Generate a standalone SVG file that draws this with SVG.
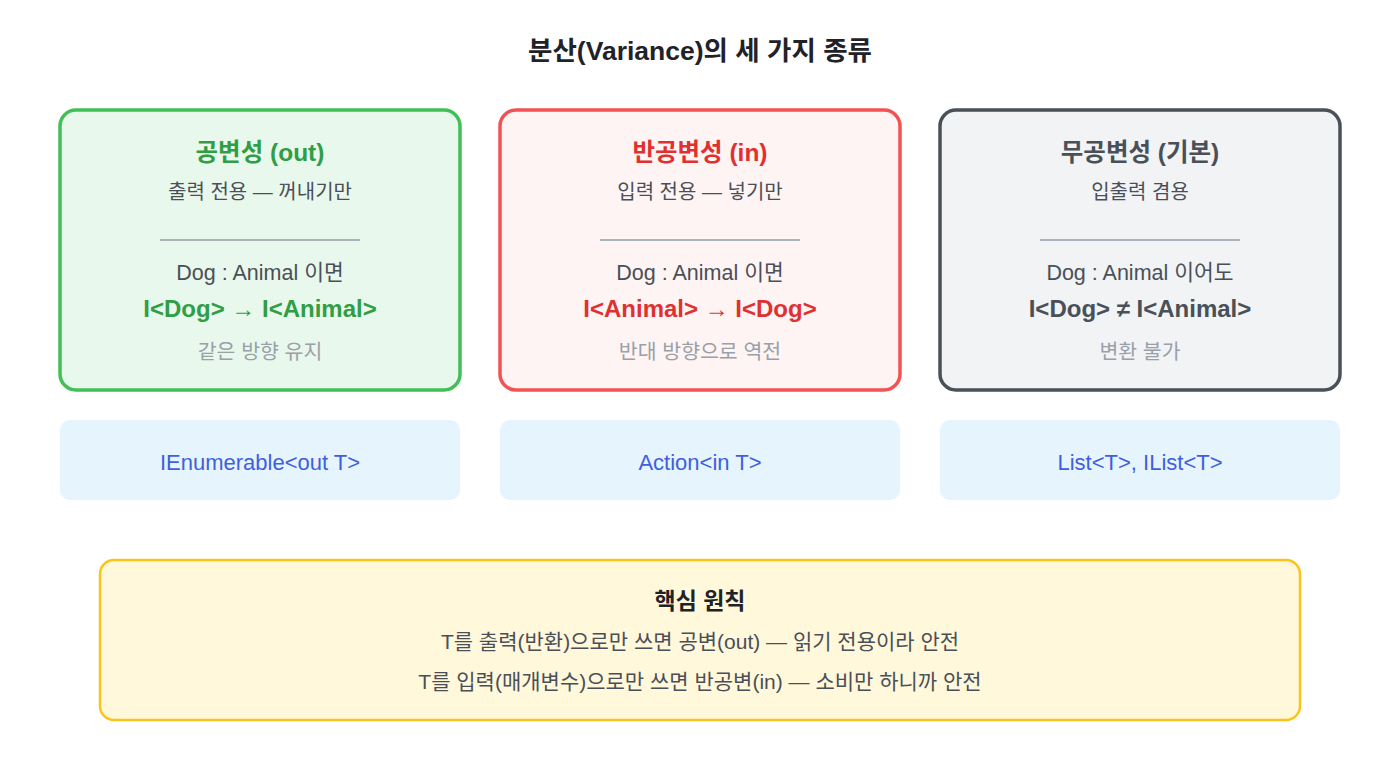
<svg xmlns="http://www.w3.org/2000/svg" width="1400" height="760" viewBox="0 0 1400 760">
<style>
text{font-family:"Liberation Sans","Noto Sans CJK KR",sans-serif;text-anchor:middle}
.title{font-size:26.5px;font-weight:bold;fill:#1f2328}
.h{font-size:24.5px;font-weight:bold}
.sub{font-size:20px;fill:#4a4f57}
.dog{font-size:21.5px;fill:#4a4f57}
.rel{font-size:24px;font-weight:bold}
.note{font-size:20.5px;fill:#9aa0a8}
.api{font-size:22px;fill:#3f5fe0}
.div{stroke:#adb3ba;stroke-width:2}
.card{stroke-width:3.5}
.apibox{fill:#e6f4fd}
.k{font-size:23px;font-weight:bold;fill:#1f2328}
.kl{font-size:21px;fill:#4a4f57}
</style>
<rect width="1400" height="760" fill="#ffffff"/>
<text class="title" x="700" y="59.5">분산(Variance)의 세 가지 종류</text>
<g id="connectors"></g>
<g id="covariance">
<rect class="card" x="60" y="110" width="400" height="280" rx="16" fill="#e9f8ec" stroke="#40c057"/>
<text class="h" x="260" y="161" fill="#2f9e44">공변성 (out)</text>
<text class="sub" x="260" y="199">출력 전용 — 꺼내기만</text>
<line class="div" x1="160" y1="240" x2="360" y2="240"/>
<text class="dog" x="260" y="280">Dog : Animal 이면</text>
<text class="rel" x="260" y="316.5" fill="#2f9e44">I&lt;Dog&gt; → I&lt;Animal&gt;</text>
<text class="note" x="260" y="359">같은 방향 유지</text>
</g>
<g id="contravariance">
<rect class="card" x="500" y="110" width="400" height="280" rx="16" fill="#fff4f4" stroke="#f25252"/>
<text class="h" x="700" y="161" fill="#e03131">반공변성 (in)</text>
<text class="sub" x="700" y="199">입력 전용 — 넣기만</text>
<line class="div" x1="600" y1="240" x2="800" y2="240"/>
<text class="dog" x="700" y="280">Dog : Animal 이면</text>
<text class="rel" x="700" y="316.5" fill="#e03131">I&lt;Animal&gt; → I&lt;Dog&gt;</text>
<text class="note" x="700" y="359">반대 방향으로 역전</text>
</g>
<g id="invariance">
<rect class="card" x="940" y="110" width="400" height="280" rx="16" fill="#f1f3f5" stroke="#495057"/>
<text class="h" x="1140" y="161" fill="#495057">무공변성 (기본)</text>
<text class="sub" x="1140" y="199">입출력 겸용</text>
<line class="div" x1="1040" y1="240" x2="1240" y2="240"/>
<text class="dog" x="1140" y="280">Dog : Animal 이어도</text>
<text class="rel" x="1140" y="316.5" fill="#495057">I&lt;Dog&gt; ≠ I&lt;Animal&gt;</text>
<text class="note" x="1140" y="359">변환 불가</text>
</g>
<g id="api-out">
<rect class="apibox" x="60" y="420" width="400" height="80" rx="10"/>
<text class="api" x="260" y="470">IEnumerable&lt;out T&gt;</text>
</g>
<g id="api-in">
<rect class="apibox" x="500" y="420" width="400" height="80" rx="10"/>
<text class="api" x="700" y="470">Action&lt;in T&gt;</text>
</g>
<g id="api-inv">
<rect class="apibox" x="940" y="420" width="400" height="80" rx="10"/>
<text class="api" x="1140" y="470">List&lt;T&gt;, IList&lt;T&gt;</text>
</g>
<g id="principle">
<rect x="100" y="560" width="1200" height="160" rx="14" fill="#fff8db" stroke="#fcc419" stroke-width="2.5"/>
<text class="k" x="700" y="609">핵심 원칙</text>
<text class="kl" x="700" y="648.5">T를 출력(반환)으로만 쓰면 공변(out) — 읽기 전용이라 안전</text>
<text class="kl" x="700" y="688.5">T를 입력(매개변수)으로만 쓰면 반공변(in) — 소비만 하니까 안전</text>
</g>
</svg>
